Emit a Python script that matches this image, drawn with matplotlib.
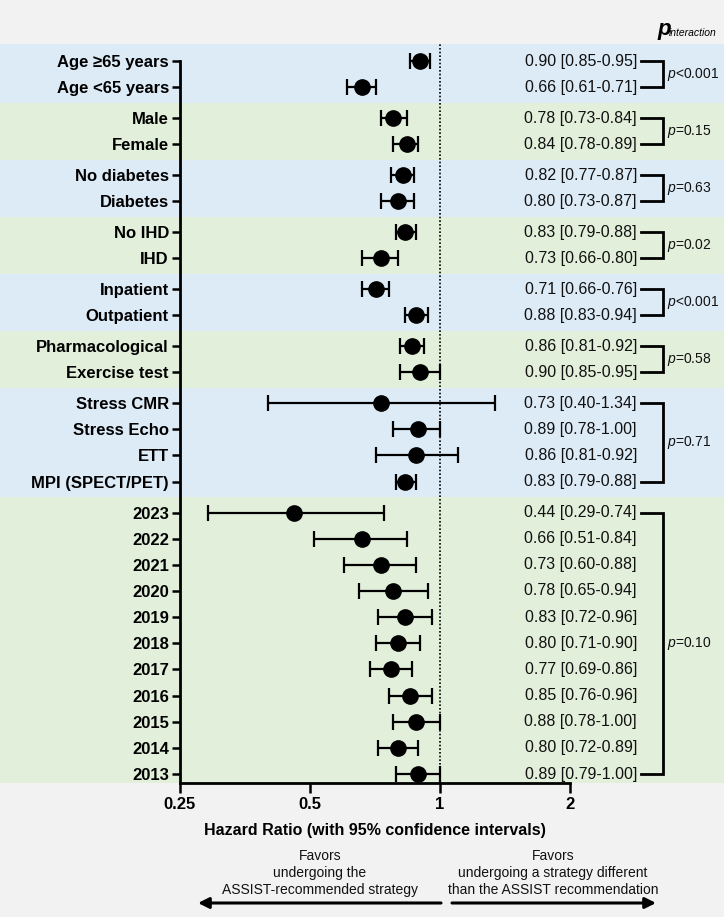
import numpy as np
import matplotlib
matplotlib.use("Agg")
import matplotlib.pyplot as plt
from matplotlib.transforms import blended_transform_factory
from matplotlib.ticker import NullLocator

plt.rcParams['font.family'] = ['Liberation Sans', 'DejaVu Sans']
plt.rcParams['mathtext.fontset'] = 'custom'
plt.rcParams['mathtext.it'] = 'Liberation Sans:italic'
plt.rcParams['mathtext.rm'] = 'Liberation Sans'

# ---------------- data ----------------
labels = ["Age \u226565 years", "Age <65 years",
          "Male", "Female",
          "No diabetes", "Diabetes",
          "No IHD", "IHD",
          "Inpatient", "Outpatient",
          "Pharmacological", "Exercise test",
          "Stress CMR", "Stress Echo", "ETT", "MPI (SPECT/PET)",
          "2023", "2022", "2021", "2020", "2019", "2018", "2017",
          "2016", "2015", "2014", "2013"]
groups = [0, 0, 1, 1, 2, 2, 3, 3, 4, 4, 5, 5, 6, 6, 6, 6,
          7, 7, 7, 7, 7, 7, 7, 7, 7, 7, 7]
hr = [0.90, 0.66, 0.78, 0.84, 0.82, 0.80, 0.83, 0.73, 0.71, 0.88, 0.86, 0.90,
      0.73, 0.89, 0.88, 0.83,
      0.46, 0.66, 0.73, 0.78, 0.83, 0.80, 0.77, 0.85, 0.88, 0.80, 0.89]
ci_lo = [0.85, 0.61, 0.73, 0.78, 0.77, 0.73, 0.79, 0.66, 0.66, 0.83, 0.81, 0.81,
         0.40, 0.78, 0.71, 0.79,
         0.29, 0.51, 0.60, 0.65, 0.72, 0.71, 0.69, 0.76, 0.78, 0.72, 0.79]
ci_hi = [0.95, 0.71, 0.84, 0.89, 0.87, 0.87, 0.88, 0.80, 0.76, 0.94, 0.92, 1.00,
         1.34, 1.00, 1.10, 0.88,
         0.74, 0.84, 0.88, 0.94, 0.96, 0.90, 0.86, 0.96, 1.00, 0.89, 1.00]
hr_text = ["0.90 [0.85-0.95]", "0.66 [0.61-0.71]",
           "0.78 [0.73-0.84]", "0.84 [0.78-0.89]",
           "0.82 [0.77-0.87]", "0.80 [0.73-0.87]",
           "0.83 [0.79-0.88]", "0.73 [0.66-0.80]",
           "0.71 [0.66-0.76]", "0.88 [0.83-0.94]",
           "0.86 [0.81-0.92]", "0.90 [0.85-0.95]",
           "0.73 [0.40-1.34]", "0.89 [0.78-1.00]", "0.86 [0.81-0.92]", "0.83 [0.79-0.88]",
           "0.44 [0.29-0.74]", "0.66 [0.51-0.84]", "0.73 [0.60-0.88]", "0.78 [0.65-0.94]",
           "0.83 [0.72-0.96]", "0.80 [0.71-0.90]", "0.77 [0.69-0.86]", "0.85 [0.76-0.96]",
           "0.88 [0.78-1.00]", "0.80 [0.72-0.89]", "0.89 [0.79-1.00]"]
p_values = ["<0.001", "=0.15", "=0.63", "=0.02", "<0.001", "=0.58", "=0.71", "=0.10"]
x_ticks = [0.25, 0.5, 1, 2]
x_ticklabels = ["0.25", "0.5", "1", "2"]

band_colors = ["#DDEBF7", "#E2EFDA"]

# ---------------- layout ----------------
W, H = 724, 917
fig = plt.figure(figsize=(W / 100, H / 100), dpi=100, facecolor="#F2F2F2")
ax_top_px, ax_bot_px = 44, 783
ax = fig.add_axes([0, 1 - ax_bot_px / H, 1, (ax_bot_px - ax_top_px) / H])
ax.set_facecolor("none")

groups_arr = np.array(groups)
ypos = np.arange(len(labels)) + 0.18 * groups_arr
y_top = ypos[0] - 0.65
y_bot = ypos[-1] + 0.34

# x scale: 0.25 -> 180 px, 2 -> 570 px
px_per_doubling = 130.0
x_left = 0.25 * 2 ** (-180 / px_per_doubling)
x_right = 2 * 2 ** ((W - 570) / px_per_doubling)
ax.set_xscale("log", base=2)
ax.set_xlim(x_left, x_right)
ax.set_ylim(y_bot, y_top)

# bands
ngroups = groups_arr.max() + 1
for g in range(ngroups):
    idx = np.where(groups_arr == g)[0]
    top = y_top if g == 0 else ypos[idx[0]] - 0.59
    bot = y_bot if g == ngroups - 1 else ypos[idx[-1]] + 0.59
    ax.axhspan(top, bot, color=band_colors[g % 2], lw=0, zorder=0)

# reference line
ax.axvline(1, color="k", lw=1.2, ls=(0, (1, 1.2)), zorder=1)

hr_a = np.array(hr)
lo_a = np.array(ci_lo)
hi_a = np.array(ci_hi)
ax.errorbar(hr_a, ypos, xerr=[hr_a - lo_a, hi_a - hr_a], fmt="o", ms=11,
            color="k", ecolor="k", elinewidth=1.6, capsize=5.5, capthick=1.6,
            zorder=3)

# spines
for s in ["top", "right"]:
    ax.spines[s].set_visible(False)
ax.spines["left"].set_position(("data", 0.25))
ax.spines["left"].set_bounds(ypos[0], y_bot)
ax.spines["bottom"].set_bounds(0.25, 2)
ax.spines["left"].set_linewidth(2)
ax.spines["bottom"].set_linewidth(2)

ax.set_yticks(ypos)
ax.set_yticklabels(labels, fontweight="bold", fontsize=12)
ax.set_xticks(x_ticks)
ax.set_xticklabels(x_ticklabels, fontweight="bold", fontsize=12)
ax.xaxis.set_minor_locator(NullLocator())
ax.tick_params(axis="y", length=6, width=1.8, pad=2)
ax.tick_params(axis="x", length=7, width=1.8, pad=3)

# right-hand text column
trans = blended_transform_factory(fig.transFigure, ax.transData)
for y, t in zip(ypos, hr_text):
    ax.text(637 / W, y, t, transform=trans, ha="right", va="center",
            fontsize=11.5, color="#111111")

for g in range(ngroups):
    idx = np.where(groups_arr == g)[0]
    y0, y1 = ypos[idx[0]], ypos[idx[-1]]
    ax.plot([641 / W, 663 / W, 663 / W, 641 / W], [y0, y0, y1, y1],
            transform=trans, color="k", lw=2, clip_on=False,
            solid_joinstyle="miter", zorder=4)
    ax.text(667 / W, (y0 + y1) / 2, "$p$" + p_values[g], transform=trans,
            ha="left", va="center", fontsize=10, color="#111111")

# header
fig.text(657 / W, 1 - 30 / H, "p", fontstyle="italic", fontweight="bold",
         fontsize=16, ha="left", va="center")
fig.text(669 / W, 1 - 33 / H, "interaction", fontstyle="italic",
         fontsize=7.5, ha="left", va="center")

# x label
fig.text(375 / W, 1 - 830 / H, "Hazard Ratio (with 95% confidence intervals)",
         fontweight="bold", fontsize=11.5, ha="center", va="center")

# favours annotation
fig.text(320 / W, 1 - 873 / H, "Favors\nundergoing the\nASSIST-recommended strategy",
         fontsize=10, ha="center", va="center", linespacing=1.25, color="#111111")
fig.text(553 / W, 1 - 873 / H,
         "Favors\nundergoing a strategy different\nthan the ASSIST recommendation",
         fontsize=10, ha="center", va="center", linespacing=1.25, color="#111111")
ya = 1 - 903 / H
fig.add_artist(matplotlib.patches.FancyArrowPatch(
    (441 / W, ya), (198 / W, ya), transform=fig.transFigure,
    arrowstyle="-|>", mutation_scale=16, lw=2.2, color="k",
    shrinkA=0, shrinkB=0))
fig.add_artist(matplotlib.patches.FancyArrowPatch(
    (452 / W, ya), (656 / W, ya), transform=fig.transFigure,
    arrowstyle="-|>", mutation_scale=16, lw=2.2, color="k",
    shrinkA=0, shrinkB=0))

fig.savefig("out.png", dpi=100, facecolor=fig.get_facecolor())
